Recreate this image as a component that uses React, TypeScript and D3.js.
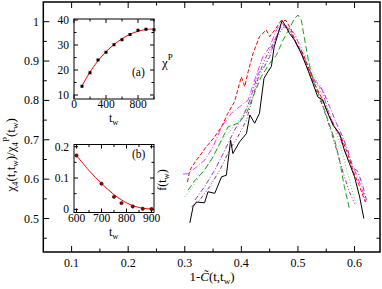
import React from 'react';
import * as d3 from 'd3';

// ---------- main plot data ----------
const xMajorMain = [0.1, 0.2, 0.3, 0.4, 0.5, 0.6];
const xMinorMain = [0.15, 0.25, 0.35, 0.45, 0.55];
const yMajorMain = [0.5, 0.6, 0.7, 0.8, 0.9, 1];
const yMinorMain = [0.45, 0.55, 0.65, 0.75, 0.85, 0.95];
const xLabelsMain = ['0.1', '0.2', '0.3', '0.4', '0.5', '0.6'];
const yLabelsMain = ['0.5', '0.6', '0.7', '0.8', '0.9', '1'];

const seriesBlack: [number, number][] = [
  [0.309, 0.489], [0.3147, 0.53], [0.3206, 0.542], [0.335, 0.54], [0.341, 0.568], [0.353, 0.564],
  [0.365, 0.606], [0.3735, 0.61], [0.381, 0.699], [0.385, 0.665], [0.397, 0.695], [0.409, 0.716],
  [0.415, 0.763], [0.4235, 0.742], [0.432, 0.767], [0.44, 0.856], [0.447, 0.873], [0.453, 0.886],
  [0.458, 0.936], [0.465, 0.97], [0.472, 1.003], [0.479, 0.987], [0.485, 0.97], [0.494, 0.953],
  [0.506, 0.919], [0.5176, 0.877], [0.5265, 0.843], [0.535, 0.809], [0.544, 0.801], [0.553, 0.767],
  [0.562, 0.737], [0.5735, 0.716], [0.582, 0.674], [0.591, 0.64], [0.6, 0.606], [0.609, 0.555], [0.6165, 0.5],
];
const seriesRed: [number, number][] = [
  [0.3047, 0.593], [0.309, 0.623], [0.3206, 0.648], [0.338, 0.682], [0.353, 0.708], [0.365, 0.733],
  [0.376, 0.767], [0.388, 0.797], [0.4, 0.86], [0.406, 0.835], [0.412, 0.873], [0.4206, 0.919],
  [0.432, 0.962], [0.444, 0.979], [0.45, 0.962], [0.459, 0.979], [0.4706, 1.003], [0.479, 1.003],
  [0.488, 0.979], [0.497, 0.945], [0.509, 0.919], [0.518, 0.886], [0.529, 0.843], [0.541, 0.809],
  [0.553, 0.767], [0.565, 0.733], [0.576, 0.708], [0.588, 0.665], [0.597, 0.623], [0.609, 0.581], [0.619, 0.542],
];
const seriesGreen: [number, number][] = [
  [0.3059, 0.572], [0.318, 0.597], [0.335, 0.623], [0.35, 0.657], [0.362, 0.691], [0.3765, 0.733],
  [0.394, 0.742], [0.409, 0.767], [0.4206, 0.809], [0.435, 0.86], [0.45, 0.894], [0.462, 0.915],
  [0.4735, 0.953], [0.482, 0.975], [0.494, 1.008], [0.5, 1.017], [0.506, 1.004], [0.513, 0.945],
  [0.5206, 0.886], [0.529, 0.843], [0.541, 0.801], [0.553, 0.75], [0.565, 0.699], [0.5735, 0.648],
  [0.582, 0.581], [0.591, 0.525],
];
const seriesMagenta: [number, number][] = [
  [0.297, 0.613], [0.3059, 0.614], [0.3206, 0.631], [0.335, 0.648], [0.35, 0.682], [0.365, 0.733],
  [0.382, 0.767], [0.397, 0.784], [0.412, 0.801], [0.4235, 0.852], [0.438, 0.911], [0.45, 0.936],
  [0.462, 0.979], [0.4706, 0.996], [0.482, 0.987], [0.494, 0.97], [0.506, 0.928], [0.5176, 0.886],
  [0.529, 0.852], [0.541, 0.835], [0.553, 0.775], [0.562, 0.742], [0.5735, 0.708], [0.582, 0.674],
  [0.591, 0.648], [0.6, 0.623], [0.6118, 0.581], [0.6206, 0.542],
];
const seriesViolet: [number, number][] = [
  [0.318, 0.547], [0.335, 0.581], [0.353, 0.623], [0.371, 0.674], [0.388, 0.725], [0.403, 0.758],
  [0.415, 0.801], [0.43, 0.869], [0.441, 0.886], [0.45, 0.911], [0.459, 0.953], [0.468, 0.983],
  [0.476, 0.992], [0.485, 0.979], [0.497, 0.945], [0.509, 0.911], [0.5206, 0.877], [0.532, 0.843],
  [0.544, 0.826], [0.556, 0.784], [0.568, 0.742], [0.579, 0.708], [0.588, 0.674], [0.597, 0.631],
  [0.606, 0.619], [0.615, 0.581], [0.621, 0.547],
];
const seriesLightGreen: [number, number][] = [
  [0.3, 0.555], [0.3147, 0.581], [0.329, 0.614], [0.347, 0.648], [0.365, 0.699], [0.382, 0.725],
  [0.4, 0.758], [0.4176, 0.801], [0.432, 0.86], [0.447, 0.911], [0.462, 0.953], [0.4735, 0.987],
  [0.485, 0.987], [0.497, 0.962], [0.509, 0.928], [0.5206, 0.894], [0.532, 0.852], [0.544, 0.809],
  [0.556, 0.767], [0.568, 0.716], [0.579, 0.665], [0.588, 0.614], [0.597, 0.564], [0.603, 0.538],
];
const seriesMaroon: [number, number][] = [
  [0.312, 0.53], [0.3265, 0.547], [0.344, 0.581], [0.362, 0.623], [0.379, 0.674], [0.394, 0.708],
  [0.409, 0.75], [0.4206, 0.809], [0.432, 0.869], [0.441, 0.903], [0.453, 0.936], [0.465, 0.97],
  [0.476, 0.987], [0.485, 0.979], [0.497, 0.945], [0.509, 0.911], [0.5206, 0.869], [0.532, 0.826],
  [0.544, 0.784], [0.556, 0.733], [0.565, 0.691], [0.5735, 0.648], [0.582, 0.606], [0.591, 0.568], [0.6, 0.538],
];

// ---------- inset (a) data ----------
const twA = [100, 200, 300, 400, 500, 600, 700, 800, 900, 1000];
const chiA = [13.5, 18.9, 24, 27.1, 30.1, 32.1, 34.2, 35.9, 36.3, 36.1];
const fitTwA = [100, 200, 300, 400, 500, 600, 700, 800, 900, 1000];
const fitChiA = [13.6, 19.2, 23.7, 27.3, 30.2, 32.5, 34.3, 35.5, 36.2, 36.4];
const xMajorA = [0, 400, 800];
const xMinorA = [200, 600, 1000];
const yMajorA = [10, 20, 30, 40];
const yMinorA = [15, 25, 35];

// ---------- inset (b) data ----------
const twB = [600, 700, 750, 780, 825, 865, 900];
const fB = [0.172, 0.082, 0.04, 0.02, 0.009, 0.002, 0.001];
const fitTwB = [600, 650, 700, 750, 800, 850, 900];
const fitFB = [0.172, 0.124, 0.083, 0.047, 0.021, 0.006, 0.001];
const xMajorB = [600, 700, 800, 900];
const xMinorB = [650, 750, 850];
const yMajorB = [0, 0.1, 0.2];
const yMinorB = [0.05, 0.15];
const yLabelsB = ['0', '0.1', '0.2'];

const FONT = '"Times New Roman", "Liberation Serif", "DejaVu Serif", serif';

type Scale = d3.ScaleLinear<number, number>;

function Frame({ x, y, xMaj, xMin, yMaj, yMin, majLen, minLen, sw }: {
  x: Scale; y: Scale; xMaj: number[]; xMin: number[]; yMaj: number[]; yMin: number[];
  majLen: number; minLen: number; sw: number;
}) {
  const [x0, x1] = x.range();
  const [y0, y1] = y.range(); // y0 bottom, y1 top
  const lines: any[] = [];
  const addX = (v: number, len: number, k: string) => {
    const px = x(v);
    lines.push(<line key={'xb' + k} x1={px} x2={px} y1={y0} y2={y0 - len} />);
    lines.push(<line key={'xt' + k} x1={px} x2={px} y1={y1} y2={y1 + len} />);
  };
  const addY = (v: number, len: number, k: string) => {
    const py = y(v);
    lines.push(<line key={'yl' + k} x1={x0} x2={x0 + len} y1={py} y2={py} />);
    lines.push(<line key={'yr' + k} x1={x1} x2={x1 - len} y1={py} y2={py} />);
  };
  xMaj.forEach((v, i) => addX(v, majLen, 'M' + i));
  xMin.forEach((v, i) => addX(v, minLen, 'm' + i));
  yMaj.forEach((v, i) => addY(v, majLen, 'M' + i));
  yMin.forEach((v, i) => addY(v, minLen, 'm' + i));
  return (
    <g stroke="#000" strokeWidth={1}>
      <rect x={x0} y={y1} width={x1 - x0} height={y0 - y1} fill="#fff" stroke="#000" strokeWidth={sw} />
      {lines}
    </g>
  );
}

export default function App() {
  // main scales
  const x = d3.scaleLinear().domain([0.05, 0.645]).range([43.3, 380]);
  const y = d3.scaleLinear().domain([0.415, 1.05]).range([252, 2]);
  const line = d3.line<[number, number]>().x(d => x(d[0])).y(d => y(d[1]));

  // inset a
  const xa = d3.scaleLinear().domain([0, 1000]).range([74, 154]);
  const ya = d3.scaleLinear().domain([8.4, 40.4]).range([99, 19]);
  const fitA = d3.line<number>().x((_, i) => xa(fitTwA[i])).y(d => ya(d)).curve(d3.curveCatmullRom);

  // inset b
  const xb = d3.scaleLinear().domain([590, 910]).range([74, 154]);
  const yb = d3.scaleLinear().domain([-0.01, 0.207]).range([212.5, 144.5]);
  const fitB = d3.line<number>().x((_, i) => xb(fitTwB[i])).y(d => yb(d)).curve(d3.curveCatmullRom);

  const series = [
    { data: seriesLightGreen, color: '#66cc66', dash: '1,2' },
    { data: seriesMaroon, color: '#993366', dash: '4,2,1,2,1,2' },
    { data: seriesViolet, color: '#9b30e0', dash: '5,2,1,2' },
    { data: seriesMagenta, color: '#ff33ff', dash: '6,2,1,2' },
    { data: seriesGreen, color: '#1f9e1f', dash: '6,3' },
    { data: seriesRed, color: '#ff0000', dash: '4,2' },
    { data: seriesBlack, color: '#000000', dash: undefined as string | undefined },
  ];

  return (
    <svg width={382} height={289} style={{ display: 'block', position: 'absolute', left: 0, top: 0, fontFamily: FONT }}>
      <rect x={0} y={0} width={382} height={289} fill="#fff" />
      {/* main frame */}
      <Frame x={x} y={y} xMaj={xMajorMain} xMin={xMinorMain} yMaj={yMajorMain} yMin={yMinorMain}
        majLen={6} minLen={3.5} sw={1.5} />
      {xMajorMain.map((v, i) => (
        <text key={'xl' + i} x={x(v)} y={267} fontSize={12} textAnchor="middle">{xLabelsMain[i]}</text>
      ))}
      {yMajorMain.map((v, i) => (
        <text key={'yl' + i} x={39} y={y(v) + 4} fontSize={12} textAnchor="end">{yLabelsMain[i]}</text>
      ))}
      {/* curves */}
      <g fill="none" strokeWidth={1}>
        {series.map((s, i) => (
          <path key={i} d={line(s.data) || ''} stroke={s.color} strokeDasharray={s.dash} />
        ))}
      </g>
      {/* axis titles */}
      <text x={212} y={281} fontSize={13} textAnchor="middle">
        1-<tspan fontStyle="italic">C&#771;</tspan>(t,t<tspan fontSize={9} dy={3}>w</tspan><tspan dy={-3}>)</tspan>
      </text>
      <text transform="translate(15,155) rotate(-90)" fontSize={13} textAnchor="middle">
        χ<tspan fontSize={9} dy={3}>4</tspan><tspan dy={-3}>(t,t</tspan><tspan fontSize={9} dy={3}>w</tspan><tspan dy={-3}>)/χ</tspan><tspan fontSize={9} dy={3}>4</tspan><tspan fontSize={9} dy={-9}>P</tspan><tspan dy={6}>(t</tspan><tspan fontSize={9} dy={3}>w</tspan><tspan dy={-3}>)</tspan>
      </text>

      {/* inset (a) */}
      <Frame x={xa} y={ya} xMaj={xMajorA} xMin={xMinorA} yMaj={yMajorA} yMin={yMinorA}
        majLen={4} minLen={2.5} sw={1} />
      <path d={fitA(fitChiA) || ''} fill="none" stroke="#ff0000" strokeWidth={1} />
      {twA.map((t, i) => (
        <rect key={'pa' + i} x={xa(t) - 1.5} y={ya(chiA[i]) - 1.5} width={3} height={3} fill="#000" />
      ))}
      {xMajorA.map((v, i) => (
        <text key={'xa' + i} x={xa(v)} y={108} fontSize={11.5} textAnchor="middle">{v}</text>
      ))}
      {yMajorA.map((v, i) => (
        <text key={'ya' + i} x={69} y={ya(v) + 4} fontSize={11.5} textAnchor="end">{v}</text>
      ))}
      <text x={109} y={122} fontSize={12}>t<tspan fontSize={8.5} dy={3}>w</tspan></text>
      <text x={132} y={76} fontSize={11.5}>(a)</text>
      <text x={162} y={67} fontSize={13}>χ<tspan fontSize={9} dy={-7}>P</tspan></text>

      {/* inset (b) */}
      <Frame x={xb} y={yb} xMaj={xMajorB} xMin={xMinorB} yMaj={yMajorB} yMin={yMinorB}
        majLen={4} minLen={2.5} sw={1} />
      <path d={fitB(fitFB) || ''} fill="none" stroke="#ff0000" strokeWidth={1} />
      {twB.map((t, i) => (
        <circle key={'pb' + i} cx={xb(t)} cy={yb(fB[i])} r={1.7} fill="#a00000" stroke="#000" strokeWidth={0.5} />
      ))}
      {xMajorB.map((v, i) => (
        <text key={'xb' + i} x={xb(v)} y={222} fontSize={11.5} textAnchor="middle">{v}</text>
      ))}
      {yMajorB.map((v, i) => (
        <text key={'yb' + i} x={69} y={yb(v) + 4} fontSize={11.5} textAnchor="end">{yLabelsB[i]}</text>
      ))}
      <text x={109} y={236} fontSize={12}>t<tspan fontSize={8.5} dy={3}>w</tspan></text>
      <text x={132} y={158} fontSize={11.5}>(b)</text>
      <text transform="translate(166,180) rotate(-90)" fontSize={12} textAnchor="middle">
        f(t<tspan fontSize={8.5} dy={3}>w</tspan><tspan dy={-3}>)</tspan>
      </text>
    </svg>
  );
}
